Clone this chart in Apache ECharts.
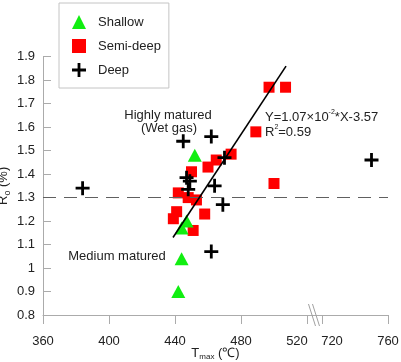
<!DOCTYPE html>
<html>
<head>
<meta charset="utf-8">
<script src="https://cdn.jsdelivr.net/npm/echarts@6/dist/echarts.min.js"></script>
<style>html,body{margin:0;padding:0;background:#fff}#c{width:401px;height:362px}</style>
</head>
<body>
<div id="c"></div>
<script>
// ---- data ----
const shallow = [[452,1.48],[447,1.20],[444,1.17],[444,1.04],[442,0.90]];
const semiDeep = [[497,1.77],[507,1.77],[489,1.58],[474,1.485],[465,1.46],[460,1.43],[500,1.36],
  [450,1.41],[442,1.32],[448,1.30],[453,1.29],[441,1.24],[439,1.21],[458,1.23],[451,1.16]];
const deep = [[384,1.34],[445,1.54],[462,1.56],[470,1.47],[750,1.46],[447,1.385],[449,1.37],
  [448,1.335],[464,1.35],[469,1.27],[462,1.07]];
const fitLine = [[438.8,1.13],[507.3,1.86]];
const xTicks = [360,400,440,480,520,720,760];
const thresholdRo = 1.3;
const breakStart = 520, breakEnd = 720;

// ---- broken axis transform ----
const breakGap = 9.1; // axis units shown for the break
function toPos(x){ return x <= breakStart ? x : x - breakEnd + breakStart + breakGap; }
function fromPos(p){ return p <= breakStart + 0.001 ? Math.round(p) : Math.round(p - breakStart - breakGap + breakEnd); }
const tr = arr => arr.map(d => [toPos(d[0]), d[1]]);

const FONT = 'Liberation Sans, Arial, sans-serif';
const crossPath = 'path://M4.8,0H7.2V4.8H12V7.2H7.2V12H4.8V7.2H0V4.8H4.8Z';
const axisGray = '#ababab';

const chart = echarts.init(document.getElementById('c'), null, {renderer:'canvas'});
chart.setOption({
  animation: false,
  textStyle: {fontFamily: FONT},
  grid: {left: 43, right: 13, top: 56.7, bottom: 47, containLabel: false, outerBoundsMode: 'none'},
  legend: {
    orient: 'vertical', left: 59, top: 3,
    padding: [12, 8, 11, 13], itemGap: 10,
    itemWidth: 14, itemHeight: 14,
    borderColor: '#c4c4c4', borderWidth: 1,
    textStyle: {fontSize: 13, color: '#222', fontFamily: FONT, padding: [0,0,0,7]},
    data: [
      {name: 'Shallow', icon: 'triangle'},
      {name: 'Semi-deep', icon: 'rect'},
      {name: 'Deep', icon: crossPath}
    ]
  },
  xAxis: {
    type: 'value', min: toPos(360), max: toPos(760),
    name: '{a|T}{b|max}{a| (℃)}', nameLocation: 'middle', nameGap: 30, nameMoveOverlap: false,
    nameTextStyle: {rich: {
      a: {fontSize: 13, color: '#222', fontFamily: FONT, lineHeight: 16},
      b: {fontSize: 8, color: '#222', fontFamily: FONT, lineHeight: 8, verticalAlign: 'bottom'}
    }},
    axisLine: {show: true, lineStyle: {color: axisGray, width: 1}},
    axisTick: {show: true, inside: false, length: 9, lineStyle: {color: axisGray, width: 1},
      customValues: xTicks.map(toPos)},
    axisLabel: {
      margin: 20, fontSize: 13, color: '#222',
      customValues: xTicks.map(toPos),
      formatter: function(v){
        const r = fromPos(v);
        if (r === breakStart) return '{l|' + r + '}';
        if (r === breakEnd) return '{r|' + r + '}';
        return '{n|' + r + '}';
      },
      rich: {
        n: {fontSize: 13, color: '#222', fontFamily: FONT},
        l: {fontSize: 13, color: '#222', fontFamily: FONT, padding: [0, 20, 0, 0]},
        r: {fontSize: 13, color: '#222', fontFamily: FONT, padding: [0, 0, 0, 20]}
      }
    },
    splitLine: {show: false}
  },
  yAxis: {
    type: 'value', min: 0.8, max: 1.9, interval: 0.1,
    name: '{a|R}{b|o}{a| (%)}', nameLocation: 'middle', nameGap: 31, nameRotate: 90, nameMoveOverlap: false,
    nameTextStyle: {rich: {
      a: {fontSize: 13, color: '#222', fontFamily: FONT, lineHeight: 18},
      b: {fontSize: 9, color: '#222', fontFamily: FONT, lineHeight: 8, verticalAlign: 'bottom'}
    }},
    axisLine: {show: true, lineStyle: {color: axisGray, width: 1}},
    axisTick: {show: true, inside: true, length: 8, lineStyle: {color: axisGray, width: 1}},
    axisLabel: {margin: 8, fontSize: 13, color: '#222',
      formatter: v => String(Math.round(v*10)/10)},
    splitLine: {show: false}
  },
  series: [
    {
      name: 'Shallow', type: 'scatter', data: tr(shallow),
      symbol: 'triangle', symbolSize: [14, 13],
      itemStyle: {color: '#11ee11', opacity: 1}, z: 3
    },
    {
      name: 'Semi-deep', type: 'scatter', data: tr(semiDeep),
      symbol: 'rect', symbolSize: 11,
      itemStyle: {color: '#ff0000', opacity: 1}, z: 2
    },
    {
      name: 'Deep', type: 'scatter', data: tr(deep),
      symbol: crossPath, symbolSize: 14,
      itemStyle: {color: '#000', opacity: 1}, z: 4
    },
    {
      name: 'fit', type: 'line', data: tr(fitLine), showSymbol: false, symbol: 'none',
      lineStyle: {color: '#000', width: 1.6}, z: 5, silent: true,
      markLine: {
        silent: true, symbol: ['none','none'], label: {show: false},
        lineStyle: {color: '#606060', width: 1.2, type: [13, 8]},
        data: [{yAxis: thresholdRo}]
      }
    },
    {
      name: 'break', type: 'custom', silent: true, z: 6,
      data: [[breakStart + breakGap/2, 0.8]],
      renderItem: function(params, api){
        const p = api.coord([api.value(0), api.value(1)]);
        const cx = p[0], cy = p[1];
        const st = {stroke: '#a0a0a0', lineWidth: 1};
        return {type: 'group', children: [
          {type: 'line', shape: {x1: cx-6, y1: cy-11, x2: cx+1, y2: cy+11}, style: st},
          {type: 'line', shape: {x1: cx-2, y1: cy-11, x2: cx+5, y2: cy+11}, style: st}
        ]};
      }
    }
  ],
  graphic: [
    {type: 'text', x: 168, y: 115, style: {text: 'Highly matured', fill: '#222', font: '13px ' + FONT, align: 'center', verticalAlign: 'middle'}},
    {type: 'text', x: 169, y: 128.5, style: {text: '(Wet gas)', fill: '#222', font: '13px ' + FONT, align: 'center', verticalAlign: 'middle'}},
    {type: 'text', x: 117, y: 256, style: {text: 'Medium matured', fill: '#222', font: '13px ' + FONT, align: 'center', verticalAlign: 'middle'}},
    {type: 'text', x: 265, y: 117, style: {
      text: '{a|Y=1.07×10}{s|-2}{a|*X-3.57}', align: 'left', verticalAlign: 'middle',
      rich: {
        a: {fontSize: 13, fill: '#222', fontFamily: FONT, lineHeight: 16},
        s: {fontSize: 7, fill: '#222', fontFamily: FONT, lineHeight: 8, verticalAlign: 'top'}
      }}},
    {type: 'text', x: 265, y: 132, style: {
      text: '{a|R}{s|2}{a|=0.59}', align: 'left', verticalAlign: 'middle',
      rich: {
        a: {fontSize: 13, fill: '#222', fontFamily: FONT, lineHeight: 16},
        s: {fontSize: 7, fill: '#222', fontFamily: FONT, lineHeight: 8, verticalAlign: 'top'}
      }}}
  ]
});
</script>
</body>
</html>
